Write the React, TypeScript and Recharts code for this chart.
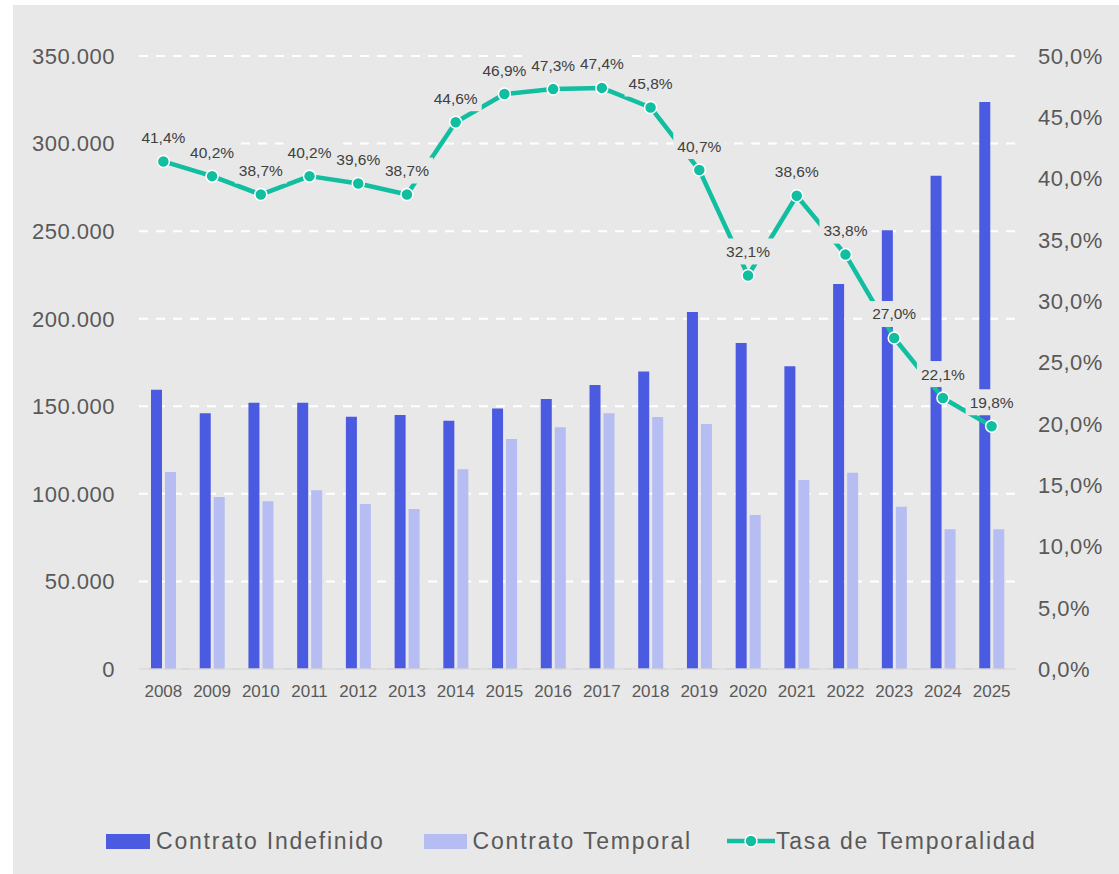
import {
  Bar,
  CartesianGrid,
  ComposedChart,
  LabelList,
  Line,
  XAxis,
  YAxis,
} from "recharts";

const YEARS = [
  "2008", "2009", "2010", "2011", "2012", "2013", "2014", "2015", "2016",
  "2017", "2018", "2019", "2020", "2021", "2022", "2023", "2024", "2025",
];

const INDEFINIDO = [
  159500, 146000, 152000, 152000, 144000, 145000, 141800, 148700, 154200,
  162200, 169800, 203900, 186200, 172800, 219800, 250500, 281600, 323800,
];

const TEMPORAL = [
  112500, 98200, 95800, 102000, 94200, 91400, 114000, 131300, 138000,
  146000, 143900, 139900, 87900, 107900, 112100, 92700, 79800, 79800,
];

const TASA = [
  41.4, 40.2, 38.7, 40.2, 39.6, 38.7, 44.6, 46.9, 47.3,
  47.4, 45.8, 40.7, 32.1, 38.6, 33.8, 27.0, 22.1, 19.8,
];

const LEFT_TICKS = [0, 50000, 100000, 150000, 200000, 250000, 300000, 350000];
const RIGHT_TICKS = [0, 5, 10, 15, 20, 25, 30, 35, 40, 45, 50];

const BG = "#e8e8e8";
const DARK = "#4a5ae1";
const LIGHT = "#b6bdf2";
const TEAL = "#12bea0";
const TEXT = "#595959";
const FONT = "'Liberation Sans', Arial, sans-serif";

const rows = YEARS.map((year, i) => ({
  year,
  indefinido: INDEFINIDO[i],
  temporal: TEMPORAL[i],
  tasa: TASA[i],
}));

function fmtThousands(v: number): string {
  return String(v).replace(/\B(?=(\d{3})+(?!\d))/g, ".");
}

function fmtPct(v: number): string {
  return `${Number(v).toFixed(1).replace(".", ",")}%`;
}

// label with a background box so it cuts through the line like the original
function RateLabel(props: any) {
  const { x, y, value } = props;
  if (x == null || y == null) return null;
  const cy = y - 24;
  return (
    <g>
      <rect x={x - 26} y={cy - 13} width={52} height={26} fill={BG} />
      <text
        x={x}
        y={cy}
        textAnchor="middle"
        dominantBaseline="central"
        fontSize={15.5}
        fontFamily={FONT}
        fill="#404040"
      >
        {fmtPct(value)}
      </text>
    </g>
  );
}

function LegendRow() {
  const label = {
    fontFamily: FONT,
    fontSize: 23,
    letterSpacing: 1.8,
    color: TEXT,
    lineHeight: "28px",
  } as const;
  return (
    <div
      style={{
        position: "absolute",
        left: 93,
        top: 822,
        height: 28,
        display: "flex",
        alignItems: "center",
        whiteSpace: "nowrap",
      }}
    >
      <span style={{ width: 44, height: 15, background: DARK, marginRight: 6 }} />
      <span style={label}>Contrato Indefinido</span>
      <span style={{ width: 43, height: 15, background: LIGHT, marginLeft: 39, marginRight: 6 }} />
      <span style={label}>Contrato Temporal</span>
      <svg width={48} height={16} style={{ marginLeft: 35, marginRight: 1 }}>
        <line x1={0} y1={8} x2={48} y2={8} stroke={TEAL} strokeWidth={4.5} />
        <circle cx={24} cy={8} r={6} fill={TEAL} stroke="#fff" strokeWidth={1.5} />
      </svg>
      <span style={label}>Tasa de Temporalidad</span>
    </div>
  );
}

export default function App() {
  return (
    <div
      style={{
        position: "absolute",
        left: 13,
        top: 5,
        width: 1106,
        height: 869,
        background: BG,
        fontFamily: FONT,
      }}
    >
      <ComposedChart
        width={1106}
        height={869}
        data={rows}
        margin={{ top: 51, right: 0, left: 1, bottom: 165 }}
        barGap={3}
      >
        <CartesianGrid
          yAxisId="left"
          vertical={false}
          stroke="#ffffff"
          strokeWidth={2}
          strokeDasharray="9 8"
        />
        <XAxis
          dataKey="year"
          height={40}
          tickLine={false}
          tickSize={0}
          tickMargin={16}
          axisLine={{ stroke: "#d4d4d4", strokeWidth: 1.5 }}
          tick={{ fill: TEXT, fontSize: 17, fontFamily: FONT }}
          interval={0}
        />
        <YAxis
          yAxisId="left"
          orientation="left"
          width={125}
          domain={[0, 350000]}
          ticks={LEFT_TICKS}
          tickFormatter={fmtThousands}
          axisLine={false}
          tickLine={false}
          tickSize={0}
          tickMargin={24}
          tick={{ fill: TEXT, fontSize: 22, fontFamily: FONT, letterSpacing: 0.5 }}
        />
        <YAxis
          yAxisId="right"
          orientation="right"
          width={103}
          domain={[0, 50]}
          ticks={RIGHT_TICKS}
          tickFormatter={fmtPct}
          axisLine={false}
          tickLine={false}
          tickSize={0}
          tickMargin={22}
          tick={{ fill: TEXT, fontSize: 22, fontFamily: FONT, letterSpacing: 0.5 }}
        />
        <Bar
          yAxisId="left"
          dataKey="indefinido"
          name="Contrato Indefinido"
          fill={DARK}
          barSize={11}
          isAnimationActive={false}
        />
        <Bar
          yAxisId="left"
          dataKey="temporal"
          name="Contrato Temporal"
          fill={LIGHT}
          barSize={11}
          isAnimationActive={false}
        />
        <Line
          yAxisId="right"
          type="linear"
          dataKey="tasa"
          name="Tasa de Temporalidad"
          stroke={TEAL}
          strokeWidth={4.5}
          strokeLinejoin="round"
          dot={{ r: 6, fill: TEAL, stroke: "#ffffff", strokeWidth: 1.5 }}
          activeDot={false}
          isAnimationActive={false}
        >
          <LabelList dataKey="tasa" content={(p: any) => <RateLabel {...p} />} />
        </Line>
      </ComposedChart>
      <LegendRow />
    </div>
  );
}
